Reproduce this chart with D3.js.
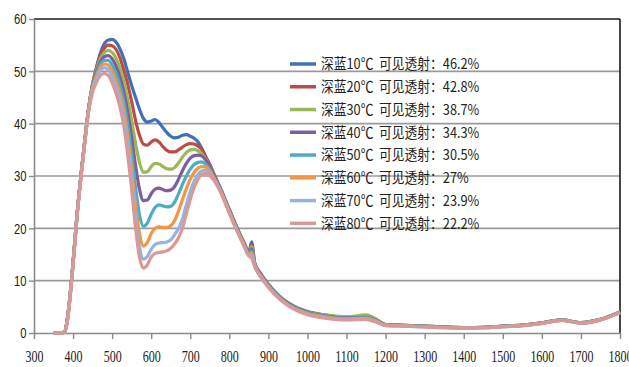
<!DOCTYPE html>
<html>
<head>
<meta charset="utf-8">
<script src="https://cdn.jsdelivr.net/npm/d3@7"></script>
<style>
  body { margin: 0; background: #fff; }
  svg { display: block; }
</style>
</head>
<body>
<div id="chart"></div>
<script>
// wavelength (nm) shared by every series
const wavelengths = [350, 370, 378, 385, 390, 400, 410, 420, 430, 440,
  450, 460, 470, 480, 490, 500, 510, 520, 530, 540, 550, 560, 570, 580, 590, 600,
  610, 620, 630, 640, 650, 660, 670, 680, 690, 700, 710, 720, 730, 740, 750, 760,
  780, 800, 820, 840, 850, 857, 865, 880, 900, 925, 950, 975, 1000,
  1050, 1100, 1150, 1175, 1200, 1250, 1300, 1350, 1400, 1450, 1500, 1550, 1600, 1650, 1700, 1750, 1800]

const t10 = [0, 0, 0.2, 2.5, 5.5, 13.5, 22.5, 30, 36.8, 43,
  47.6, 50.8, 53.5, 55.3, 56.0, 56.1, 55.6, 54.3, 52.4, 49.8, 47.3, 45.0, 42.8, 41.0, 40.3, 40.5,
  40.8, 40.2, 39.2, 38.3, 37.6, 37.3, 37.4, 37.8, 37.9, 37.6, 37.2, 36.5, 35.2, 33.6, 32.2, 30.5,
  27.2, 23.6, 20.1, 16.9, 15.4, 17.4, 13.4, 11.4, 9.3, 7.3, 5.8, 4.8, 4.1,
  3.4, 3.0, 3.1, 2.6, 1.6, 1.45, 1.3, 1.15, 1.05, 1.1, 1.3, 1.5, 1.95, 2.5, 2.0, 2.6, 4.0]
const t20 = [0, 0, 0.2, 2.5, 5.5, 13.5, 22.5, 30, 36.8, 43,
  47.5, 50.6, 53.0, 54.4, 55.0, 54.9, 54.2, 52.6, 50.2, 47.5, 44.2, 40.6, 37.8, 36.1, 35.9, 36.5,
  36.9, 36.5, 35.6, 34.9, 34.6, 34.6, 35.0, 35.5, 36.0, 36.2, 36.1, 35.7, 35.0, 33.6, 32.1, 30.4,
  27.1, 23.5, 20.0, 16.8, 15.3, 16.9, 13.3, 11.3, 9.2, 7.2, 5.7, 4.7, 4.0,
  3.3, 3.0, 3.2, 2.6, 1.6, 1.45, 1.3, 1.15, 1.05, 1.1, 1.3, 1.5, 1.95, 2.5, 2.0, 2.6, 4.0]
const t30 = [0, 0, 0.2, 2.5, 5.5, 13.5, 22.5, 30, 36.8, 43,
  47.4, 50.3, 52.4, 53.6, 54.0, 53.6, 52.5, 50.6, 48.0, 44.6, 40.6, 36.2, 32.6, 30.7, 30.8, 31.8,
  32.4, 32.3, 31.8, 31.4, 31.3, 31.6, 32.5, 33.6, 34.5, 35.0, 35.1, 34.8, 34.2, 33.2, 31.8, 30.2,
  27.0, 23.4, 19.9, 16.7, 15.2, 16.5, 13.2, 11.2, 9.2, 7.2, 5.7, 4.7, 4.0,
  3.4, 3.1, 3.45, 2.7, 1.6, 1.45, 1.3, 1.15, 1.05, 1.1, 1.3, 1.5, 1.95, 2.5, 2.0, 2.6, 4.0]
const t40 = [0, 0, 0.2, 2.4, 5.4, 13.4, 22.4, 29.9, 36.7, 42.9,
  47.3, 49.9, 51.8, 52.8, 53.0, 52.4, 51.0, 48.9, 46.0, 42.2, 37.4, 32.0, 27.5, 25.3, 25.4, 26.6,
  27.5, 27.7, 27.4, 27.2, 27.3, 28.0, 29.4, 31.0, 32.4, 33.4, 33.9, 34.0, 33.8, 33.0, 31.7, 30.1,
  26.9, 23.3, 19.8, 16.6, 15.1, 16.1, 13.1, 11.1, 9.1, 7.1, 5.6, 4.6, 3.9,
  3.2, 2.9, 3.0, 2.5, 1.55, 1.4, 1.25, 1.1, 1.0, 1.05, 1.25, 1.45, 1.9, 2.45, 1.95, 2.55, 3.95]
const t50 = [0, 0, 0.2, 2.3, 5.3, 13.3, 22.3, 29.8, 36.6, 42.8,
  47.1, 49.5, 51.3, 52.1, 52.1, 51.2, 49.6, 47.3, 44.2, 39.8, 34.2, 27.8, 22.6, 20.4, 21.0, 22.7,
  24.0, 24.5, 24.3, 24.1, 24.2, 25.0, 26.6, 28.4, 30.0, 31.3, 32.2, 32.6, 32.7, 32.2, 31.2, 29.8,
  26.8, 23.2, 19.7, 16.5, 15.0, 15.7, 13.0, 11.0, 9.0, 7.0, 5.5, 4.5, 3.8,
  3.1, 2.8, 2.9, 2.4, 1.5, 1.4, 1.25, 1.1, 1.0, 1.05, 1.25, 1.45, 1.9, 2.45, 1.95, 2.55, 3.95]
const t60 = [0, 0, 0.2, 2.2, 5.2, 13.2, 22.2, 29.7, 36.5, 42.7,
  46.9, 49.1, 50.8, 51.4, 51.2, 50.0, 48.2, 45.8, 42.5, 37.5, 31.5, 24.5, 19.0, 16.6, 17.3, 19.0,
  20.0, 20.3, 20.2, 20.2, 20.5, 21.5, 23.3, 25.5, 27.6, 29.4, 30.7, 31.5, 31.8, 31.7, 31.0, 29.7,
  26.7, 23.1, 19.6, 16.4, 14.9, 15.3, 12.9, 10.9, 8.9, 6.9, 5.4, 4.4, 3.7,
  3.0, 2.7, 2.8, 2.3, 1.5, 1.35, 1.2, 1.05, 0.95, 1.0, 1.2, 1.4, 1.85, 2.4, 1.9, 2.5, 3.9]
const t70 = [0, 0, 0.1, 2.1, 5.1, 13.1, 22.1, 29.6, 36.4, 42.5,
  46.6, 48.5, 50.2, 50.7, 50.3, 49.0, 47.0, 44.5, 41.0, 35.8, 29.5, 22.0, 16.5, 14.1, 14.6, 16.0,
  16.9, 17.2, 17.3, 17.4, 17.8, 18.8, 20.0, 21.8, 24.5, 27.0, 29.0, 30.3, 31.0, 31.1, 30.5, 29.4,
  26.6, 23.0, 19.5, 16.3, 14.8, 14.9, 12.8, 10.8, 8.8, 6.8, 5.3, 4.3, 3.6,
  2.9, 2.6, 2.7, 2.2, 1.45, 1.3, 1.15, 1.0, 0.95, 1.0, 1.2, 1.4, 1.85, 2.4, 1.9, 2.5, 3.9]
const t80 = [0, 0, 0.1, 2.0, 5.0, 13.0, 22.0, 29.5, 36.3, 42.4,
  46.0, 47.9, 49.2, 49.6, 49.2, 47.8, 45.8, 43.2, 39.5, 34.0, 27.5, 20.0, 14.5, 12.4, 13.0, 14.5,
  15.2, 15.4, 15.5, 15.7, 16.2, 17.0, 18.2, 20.0, 22.8, 25.5, 27.8, 29.4, 30.3, 30.5, 30.1, 29.2,
  26.5, 22.9, 19.4, 16.2, 14.7, 14.3, 12.7, 10.7, 8.7, 6.7, 5.2, 4.2, 3.5,
  2.8, 2.5, 2.6, 2.1, 1.4, 1.3, 1.15, 1.0, 0.95, 1.0, 1.2, 1.4, 1.85, 2.4, 1.9, 2.5, 3.9]

const seriesValues = [t10, t20, t30, t40, t50, t60, t70, t80]
const seriesLabels = [
  '深蓝10℃  可见透射：46.2%',
  '深蓝20℃  可见透射：42.8%',
  '深蓝30℃  可见透射：38.7%',
  '深蓝40℃  可见透射：34.3%',
  '深蓝50℃  可见透射：30.5%',
  '深蓝60℃  可见透射：27%',
  '深蓝70℃  可见透射：23.9%',
  '深蓝80℃  可见透射：22.2%'
]
const seriesColors = ['#4170b8', '#be4b48', '#98b954', '#7d5fa0', '#4aacc5', '#f69443', '#95b3de', '#dc9896']

const xTicks = d3.range(300, 1801, 100)
const yTicks = [0, 10, 20, 30, 40, 50, 60]

const width = 629, height = 367
const margin = {top: 19, right: 9, bottom: 34, left: 34}
const innerW = width - margin.left - margin.right
const innerH = height - margin.top - margin.bottom

const x = d3.scaleLinear().domain([300, 1800]).range([0, innerW])
const y = d3.scaleLinear().domain([0, 60]).range([innerH, 0])

const svg = d3.select('#chart').append('svg')
  .attr('width', width)
  .attr('height', height)

const area = svg.append('g').attr('transform', `translate(${margin.left},${margin.top})`)

// horizontal grid, top one drawn dark like a frame
area.append('g').selectAll('line')
  .data(yTicks.filter(d => d > 0))
  .enter().append('line')
  .attr('x1', 0).attr('x2', innerW)
  .attr('y1', d => y(d)).attr('y2', d => y(d))
  .attr('stroke', d => d === 60 ? '#1a1a1a' : '#9a9a9a')
  .attr('stroke-width', 1.6)

// right frame
area.append('line')
  .attr('x1', innerW).attr('x2', innerW)
  .attr('y1', 0).attr('y2', innerH)
  .attr('stroke', '#1a1a1a').attr('stroke-width', 1.6)

const xAxis = area.append('g')
  .attr('transform', `translate(0,${innerH})`)
  .call(d3.axisBottom(x).tickValues(xTicks).tickFormat(d3.format('d')).tickSize(6).tickSizeOuter(0))
xAxis.select('.domain').attr('stroke', '#8a8a8a').attr('stroke-width', 1.6)
xAxis.selectAll('.tick line').attr('stroke', '#8a8a8a').attr('stroke-width', 1.4)
xAxis.selectAll('.tick text')
  .attr('y', 18)
  .attr('transform', 'scale(0.75,1)')
  .style('font-family', '"Liberation Serif", serif')
  .style('font-size', '16px')
  .attr('fill', '#222')

const yAxis = area.append('g')
  .call(d3.axisLeft(y).tickValues(yTicks).tickSize(5).tickSizeOuter(0))
yAxis.select('.domain').attr('stroke', '#8a8a8a').attr('stroke-width', 1.6)
yAxis.selectAll('.tick line').attr('stroke', '#8a8a8a').attr('stroke-width', 1.4)
yAxis.selectAll('.tick text')
  .attr('x', -10)
  .attr('transform', 'scale(0.75,1)')
  .style('font-family', '"Liberation Sans", sans-serif')
  .style('font-size', '15px')
  .attr('fill', '#222')

// curves
const line = d3.line()
  .x((d, i) => x(wavelengths[i]))
  .y(d => y(d))
  .curve(d3.curveMonotoneX)

area.append('g').selectAll('path')
  .data(seriesValues)
  .enter().append('path')
  .attr('d', line)
  .attr('fill', 'none')
  .attr('stroke', (d, i) => seriesColors[i])
  .attr('stroke-width', 3.2)
  .attr('stroke-linejoin', 'round')

// legend, inside the plot
const legend = svg.append('g').attr('transform', 'translate(290,64)')
const items = legend.selectAll('g')
  .data(seriesLabels)
  .enter().append('g')
  .attr('transform', (d, i) => `translate(0,${i * 22.76})`)

items.append('line')
  .attr('x1', 0).attr('x2', 26)
  .attr('stroke', (d, i) => seriesColors[i])
  .attr('stroke-width', 3.5)

items.append('text')
  .attr('transform', 'translate(31,0) scale(0.88,1)')
  .attr('dy', '0.36em')
  .style('white-space', 'pre')
  .style('font-family', '"Noto Sans CJK SC", sans-serif')
  .style('font-size', '14.5px')
  .attr('fill', '#222')
  .text(d => d)
</script>
</body>
</html>
